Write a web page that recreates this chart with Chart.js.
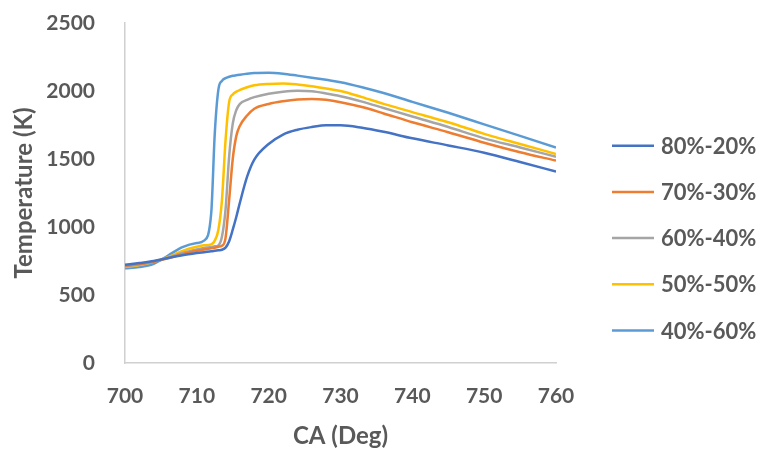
<!DOCTYPE html>
<html>
<head>
<meta charset="utf-8">
<script src="https://cdn.jsdelivr.net/npm/chart.js@4.4.0/dist/chart.umd.min.js"></script>
<style>
  html, body { margin: 0; padding: 0; background: #ffffff; }
  #wrap { width: 763px; height: 452px; position: relative; }
</style>
</head>
<body>
<div id="wrap"><canvas id="c" width="763" height="452"></canvas></div>
<script>
// ---- data ----
const ca = [700, 702, 704, 706, 708, 710, 711, 712, 712.5, 713, 713.5, 714, 714.5, 715, 715.5, 716, 717, 718, 720, 722, 724, 726, 728, 730, 733, 736, 740, 745, 750, 755, 760];
const t8020 = [722, 735, 750, 772, 792, 808, 815, 821, 825, 829, 833, 848, 895, 980, 1075, 1180, 1370, 1495, 1610, 1680, 1715, 1735, 1748, 1748, 1730, 1700, 1652, 1600, 1546, 1478, 1407];
const t7030 = [715, 728, 745, 770, 800, 825, 835, 843, 848, 855, 862, 920, 1200, 1500, 1670, 1745, 1820, 1870, 1905, 1925, 1938, 1942, 1935, 1918, 1882, 1835, 1770, 1697, 1620, 1550, 1488];
const t6040 = [710, 725, 745, 775, 810, 835, 845, 853, 858, 865, 930, 1130, 1520, 1760, 1860, 1905, 1935, 1955, 1980, 1995, 2002, 1998, 1982, 1962, 1922, 1875, 1812, 1735, 1652, 1585, 1517];
const t5050 = [705, 720, 745, 778, 825, 855, 865, 872, 900, 980, 1200, 1640, 1920, 1975, 1995, 2008, 2028, 2042, 2052, 2055, 2048, 2035, 2018, 2000, 1955, 1905, 1845, 1770, 1685, 1610, 1537];
const t4060 = [696, 705, 730, 790, 852, 882, 900, 1100, 1690, 2010, 2075, 2095, 2105, 2112, 2116, 2120, 2127, 2132, 2134, 2127, 2113, 2098, 2082, 2065, 2028, 1985, 1920, 1840, 1755, 1670, 1585];
const seriesNames = ['80%-20%', '70%-30%', '60%-40%', '50%-50%', '40%-60%'];
const seriesValues = [t8020, t7030, t6040, t5050, t4060];
const seriesColors = ['#4472C4', '#ED7D31', '#A5A5A5', '#FFC000', '#5B9BD5'];
const xTicks = [700, 710, 720, 730, 740, 750, 760];
const yTicks = [0, 500, 1000, 1500, 2000, 2500];

const TEXT = '#595959';
const FONT = 'Lato';

const datasets = seriesNames.map((name, i) => ({
  label: name,
  data: ca.map((x, j) => ({ x: x, y: seriesValues[i][j] })),
  borderColor: seriesColors[i],
  backgroundColor: seriesColors[i],
  borderWidth: 2.5,
  pointRadius: 0,
  fill: false,
  cubicInterpolationMode: 'monotone'
}));

const legendRight = {
  id: 'legendRight',
  afterDraw(chart) {
    const ctx = chart.ctx;
    ctx.save();
    chart.data.datasets.forEach((ds, i) => {
      const y = 145.7 + i * 46.2;
      ctx.strokeStyle = ds.borderColor;
      ctx.lineWidth = 2.5;
      ctx.beginPath();
      ctx.moveTo(612, y);
      ctx.lineTo(654, y);
      ctx.stroke();
      ctx.fillStyle = TEXT;
      ctx.font = 'bold 22px ' + FONT;
      ctx.textAlign = 'left';
      ctx.textBaseline = 'middle';
      ctx.fillText(ds.label, 661, y + 1);
    });
    ctx.restore();
  }
};

new Chart(document.getElementById('c'), {
  type: 'line',
  data: { datasets: datasets },
  plugins: [legendRight],
  options: {
    responsive: false,
    animation: false,
    layout: { padding: { left: 0, top: 23, right: 207, bottom: 0 } },
    plugins: { legend: { display: false }, tooltip: { enabled: false } },
    scales: {
      x: {
        type: 'linear',
        min: 700, max: 760,
        afterFit(s) { s.height = 89; },
        afterBuildTicks(s) { s.ticks = xTicks.map(v => ({ value: v })); },
        grid: { display: false, drawTicks: false },
        border: { display: true, color: '#D0D0D0', width: 1.5 },
        ticks: { color: TEXT, font: { family: FONT, size: 21, weight: 'bold' }, padding: 21, maxRotation: 0, callback: v => String(v) },
        title: { display: true, text: 'CA (Deg)', color: TEXT, font: { family: FONT, size: 24, weight: 'bold' }, padding: { top: 0, bottom: 1 } }
      },
      y: {
        min: 0, max: 2500,
        afterFit(s) { s.width = 125; s.paddingTop = 0; s.paddingBottom = 0; },
        afterBuildTicks(s) { s.ticks = yTicks.map(v => ({ value: v })); },
        grid: { display: false, drawTicks: false },
        border: { display: true, color: '#D0D0D0', width: 1.5 },
        ticks: { color: TEXT, font: { family: FONT, size: 21, weight: 'bold' }, padding: 30, callback: v => String(v) },
        title: { display: true, text: 'Temperature (K)', color: TEXT, font: { family: FONT, size: 24, weight: 'bold' }, padding: { top: 10, bottom: 0 } }
      }
    }
  }
});
</script>
</body>
</html>
